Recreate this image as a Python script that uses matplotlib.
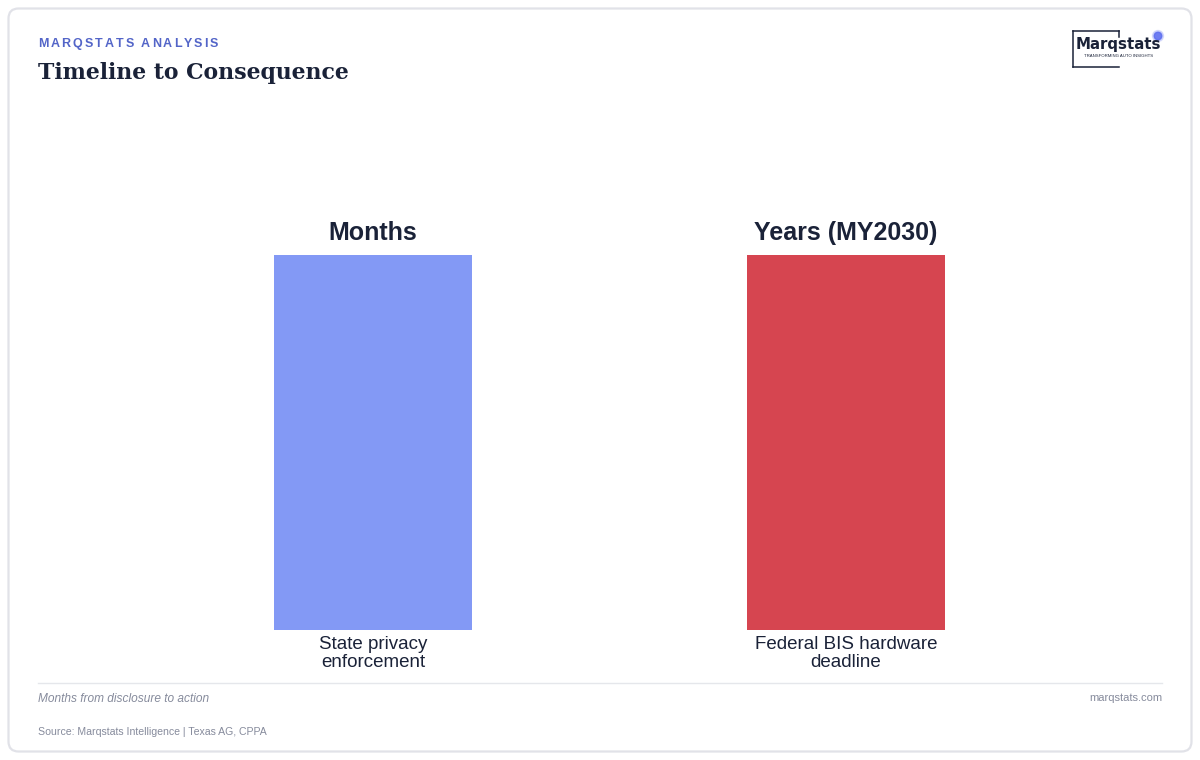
import matplotlib
matplotlib.use("Agg")
import matplotlib.pyplot as plt
from matplotlib.patches import FancyBboxPatch, Circle

# data
categories = ["State privacy\nenforcement", "Federal BIS hardware\ndeadline"]
values = [1, 1]
bar_labels = ["Months", "Years (MY2030)"]
bar_colors = ["#8399F5", "#D64550"]

kicker = "MARQSTATS ANALYSIS"
title = "Timeline to Consequence"
note = "Months from disclosure to action"
source = "Source: Marqstats Intelligence | Texas AG, CPPA"
site = "marqstats.com"

NAVY = "#1A2238"
GREY = "#868B9C"

plt.rcParams["font.family"] = ["Liberation Sans", "DejaVu Sans"]

W, H = 1200, 760
fig = plt.figure(figsize=(W / 100, H / 100), dpi=100)
fig.patch.set_facecolor("white")

# background layer in pixel coordinates
bg = fig.add_axes([0, 0, 1, 1])
bg.set_xlim(0, W)
bg.set_ylim(H, 0)
bg.axis("off")

card = FancyBboxPatch((8.5, 8.5), W - 17, H - 17,
                      boxstyle="round,pad=0,rounding_size=10",
                      fc="white", ec="#E1E2E8", lw=1.6)
bg.add_patch(card)

# kicker with letter spacing
fig.canvas.draw()
r = fig.canvas.get_renderer()
x = 38
for ch in kicker:
    t = bg.text(x, 44, ch, fontsize=9, fontweight="bold", color="#5365C8",
                va="center", ha="left")
    w = t.get_window_extent(renderer=r).width if ch != " " else 3.0
    x += w + 2.05

bg.text(38, 72.5, title, fontsize=15.8, fontweight="bold", color=NAVY,
        family="DejaVu Serif", va="center", ha="left")

# logo
bg.plot([1073, 1119], [31, 31], color=NAVY, lw=1.1)
bg.plot([1073, 1073], [31, 67], color=NAVY, lw=1.1)
bg.plot([1073, 1119], [67, 67], color=NAVY, lw=1.1)
bg.plot([1119, 1119], [31, 37], color=NAVY, lw=1.1)
bg.text(1118.5, 45, "Marqstats", fontsize=10.8, fontweight="semibold",
        color=NAVY, family="DejaVu Sans", ha="center", va="center")
bg.text(1119, 56, "TRANSFORMING AUTO INSIGHTS", fontsize=3.1, color=NAVY,
        ha="center", va="center")
bg.add_patch(Circle((1158, 36), 3.8, color="#5B6CF0", alpha=0.85))
bg.add_patch(Circle((1158, 36), 5.5, color="#5B6CF0", alpha=0.2))

# footer
bg.plot([38, 1162], [682.5, 682.5], color="#E5E7EB", lw=1)
bg.text(38, 699, note, fontsize=8.55, style="italic", color=GREY,
        va="center", ha="left")
bg.text(1162, 698, site, fontsize=8, color=GREY, va="center", ha="right")
bg.text(38, 732, source, fontsize=7.6, color=GREY, va="center", ha="left")

# bar chart
ax = fig.add_axes([38 / W, (H - 630) / H, 1124 / W, 520 / H])
ax.set_facecolor("none")
pos = list(range(len(categories)))
bars = ax.bar(pos, values, width=0.42, color=bar_colors)
for b, lab in zip(bars, bar_labels):
    ax.annotate(lab, (b.get_x() + b.get_width() / 2, b.get_height()),
                xytext=(0, 7), textcoords="offset points",
                ha="center", va="bottom", fontsize=18, fontweight="bold",
                color=NAVY)
ax.set_xlim(-0.708, 1.668)
ax.set_ylim(0, 1.387)
ax.set_xticks(pos)
ax.set_xticklabels(categories, fontsize=13.5, color=NAVY, linespacing=1.1)
ax.tick_params(axis="x", length=0, pad=4)
ax.set_yticks([])
for s in ax.spines.values():
    s.set_visible(False)

fig.savefig("out.png", dpi=100, facecolor="white")
